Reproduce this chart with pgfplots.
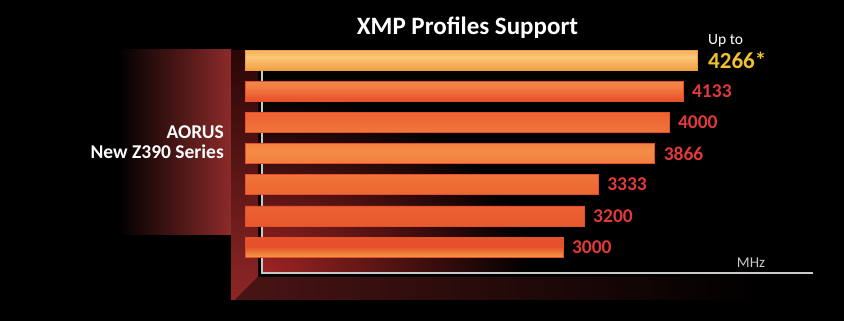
\documentclass[border=0pt]{standalone}
\usepackage{fontspec}
\setmainfont{Carlito}
\usepackage{pgfplots}
\pgfplotsset{compat=1.18}
\definecolor{valred}{HTML}{E2393A}
\definecolor{valyel}{HTML}{F2C12E}
\definecolor{panelred}{HTML}{8C2A2A}
\definecolor{walltop}{HTML}{2A0606}
\definecolor{wallbot}{HTML}{8E2626}
\definecolor{floorc}{HTML}{4A1414}
\definecolor{glowc}{HTML}{A02424}
\definecolor{axisgray}{HTML}{C8C8C8}
\definecolor{ob1}{HTML}{F29A45}
\definecolor{ob2}{HTML}{E5502A}
\definecolor{ob3}{HTML}{EE6A35}
\definecolor{ob4}{HTML}{F58A45}
\definecolor{ob5}{HTML}{F07038}
\definecolor{ob6}{HTML}{E9552C}
\definecolor{ob7}{HTML}{F27A40}
\definecolor{ob8}{HTML}{F58848}
\definecolor{yb1}{HTML}{EE9C3E}
\definecolor{yb2}{HTML}{F2A24A}
\definecolor{yb3}{HTML}{F9BE6C}
\definecolor{yb4}{HTML}{FCC878}
\definecolor{yb5}{HTML}{F8B45C}
\definecolor{yb6}{HTML}{FAC27A}
\pgfdeclareverticalshading{obar}{100bp}{color(0bp)=(ob1); color(25bp)=(ob1); color(28bp)=(ob2); color(45bp)=(ob3); color(55bp)=(ob4); color(62bp)=(ob5); color(70bp)=(ob6); color(73bp)=(ob7); color(75bp)=(ob8); color(100bp)=(ob8)}
\pgfdeclareverticalshading{ybarsh}{100bp}{color(0bp)=(yb1); color(25bp)=(yb1); color(28bp)=(yb2); color(50bp)=(yb3); color(58bp)=(yb4); color(70bp)=(yb5); color(75bp)=(yb6); color(100bp)=(yb6)}
\begin{document}
\begin{tikzpicture}[x=1pt,y=1pt]
\fill[black] (0,0) rectangle (844,321);
% left panel
\shade[left color=black, right color=panelred] (118,86) rectangle (231,271);
% wall
\shade[top color=walltop, bottom color=wallbot] (231,271) -- (258,271) -- (258,44) -- (235,21) -- (231,21) -- cycle;
% floor
\shade[left color=floorc, right color=black] (235,21) -- (258,44) -- (760,44) -- (760,21) -- cycle;
% glow in plot area
\begin{scope}
\clip (262,48) rectangle (813,271);
\shade[inner color=glowc, outer color=black] (262,48) ellipse (270 and 180);
\end{scope}
% axis lines
\draw[axisgray, line width=1.1pt] (262,271) -- (262,48) -- (813,48);
% texts
\node[anchor=base, text=white, font=\fontsize{25}{30}\selectfont\bfseries, inner sep=0pt] at (467.5,286) {XMP Profiles Support};
\node[anchor=base east, text=white, font=\fontsize{19.5}{22}\selectfont\bfseries, inner sep=0pt] at (224,182) {AORUS};
\node[anchor=base east, text=white, font=\fontsize{19.5}{22}\selectfont\bfseries, inner sep=0pt] at (224,162) {New Z390 Series};
\node[anchor=base, text=axisgray, font=\fontsize{15}{18}\selectfont, inner sep=0pt] at (751,53) {MHz};
\begin{axis}[
  at={(245pt,48pt)}, anchor=south west,
  scale only axis, width=568pt, height=233pt,
  xmin=0, xmax=5361, ymin=-0.834, ymax=6.642,
  hide axis, clip=false,
  bar width=20pt,
]
\addplot[xbar, bar shift=0pt, shade, shading=ybarsh, draw=yb1, line width=0.4pt,
  point meta=explicit symbolic, nodes near coords,
  nodes near coords style={anchor=west, xshift=11pt, inner sep=0pt, text=valyel, font=\fontsize{23}{26}\selectfont\bfseries}]
  coordinates {(4266,6) [4266*]};
\addplot[xbar, bar shift=0pt, shade, shading=obar, draw=ob2, line width=0.4pt,
  point meta=explicit symbolic, nodes near coords,
  nodes near coords style={anchor=west, xshift=9pt, inner sep=0pt, text=valred, font=\fontsize{19.5}{22}\selectfont\bfseries}]
  coordinates {(4133,5) [4133] (4000,4) [4000] (3866,3) [3866] (3333,2) [3333] (3200,1) [3200] (3000,0) [3000]};
\node[anchor=base west, text=white, font=\fontsize{15.5}{18}\selectfont, inner sep=0pt, xshift=11pt, yshift=16pt] at (axis cs:4266,6) {Up to};
\end{axis}
\pgfresetboundingbox
\useasboundingbox (0,0) rectangle (844,321);
\end{tikzpicture}
\end{document}
